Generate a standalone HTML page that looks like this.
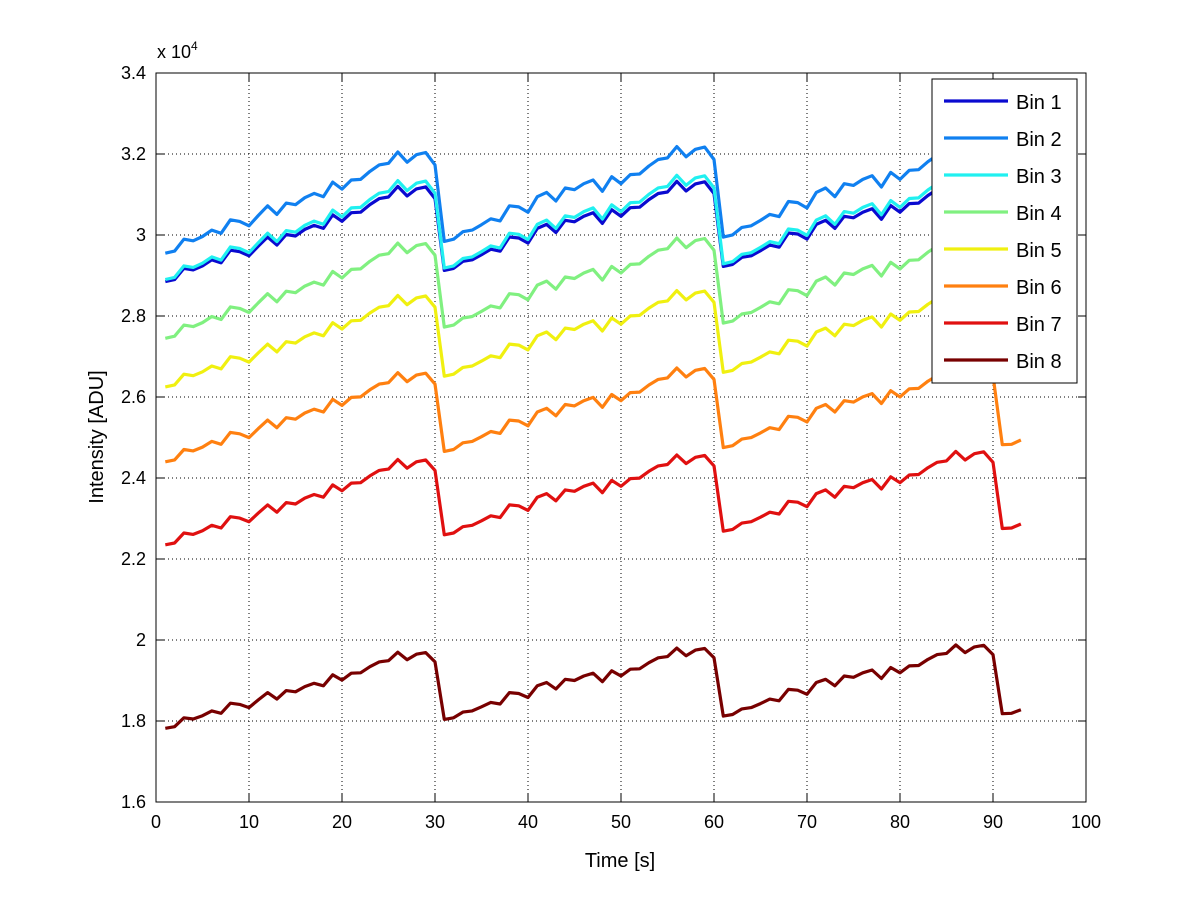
<!DOCTYPE html>
<html><head><meta charset="utf-8"><style>
html,body{margin:0;padding:0;background:#fff;}
svg{display:block;font-family:"Liberation Sans",sans-serif;}
</style></head><body>
<svg id="chart" width="1200" height="901" viewBox="0 0 1200 901">
<rect x="0" y="0" width="1200" height="901" fill="#fff"/>
<g id="grid"></g>
<g id="series"></g>
<g id="axes"></g>
<g id="legend"></g>
</svg>
<script>
const xTicks = [0,10,20,30,40,50,60,70,80,90,100];
const yTicks = [1.6,1.8,2.0,2.2,2.4,2.6,2.8,3.0,3.2,3.4];
const yTickLabels = ["1.6","1.8","2","2.2","2.4","2.6","2.8","3","3.2","3.4"];
const times = [];
for (let t = 1; t <= 93; t++) times.push(t);
// common shape (deviation read from Bin 8, units of 1e4)
const shape = [0,.004,.026,.023,.031,.043,.037,.062,.059,.051,.070,.088,.072,.093,.090,.103,.111,.105,.132,.119,.136,.137,.152,.164,.167,.188,.169,.183,.187,.164,
.022,.026,.040,.043,.053,.064,.060,.088,.086,.076,.105,.113,.097,.121,.118,.129,.136,.115,.142,.129,.146,.147,.162,.174,.177,.198,.179,.193,.197,.174,
.030,.034,.048,.051,.061,.072,.068,.096,.094,.084,.113,.121,.105,.129,.126,.137,.144,.123,.150,.137,.154,.155,.170,.182,.185,.206,.187,.201,.205,.182,
.036,.037,.046];
const binNames = ["Bin 1","Bin 2","Bin 3","Bin 4","Bin 5","Bin 6","Bin 7","Bin 8"];
const binBase = [2.885,2.955,2.89,2.745,2.625,2.44,2.235,1.782];
const binScale = [1.25,1.33,1.3,1.25,1.2,1.17,1.12,1.0];
const binColors = ["#0a0ad0","#1080f0","#20f0f0","#80f080","#f0f010","#ff8010","#e01010","#780000"];

const X0=156, X1=1086, Y0=802, Y1=73;
const xs = v => X0 + (v-0)/(100-0)*(X1-X0);
const ys = v => Y0 - (v-1.6)/(3.4-1.6)*(Y0-Y1);
const NS="http://www.w3.org/2000/svg";
function mk(tag, attrs, parent){const e=document.createElementNS(NS,tag);for(const k in attrs)e.setAttribute(k,attrs[k]);parent.appendChild(e);return e;}
const grid=document.getElementById('grid'), axes=document.getElementById('axes'), series=document.getElementById('series'), legend=document.getElementById('legend');

xTicks.forEach((t,i)=>{
  const x=xs(t);
  if(i>0&&i<xTicks.length-1){
    const g=mk('line',{x1:x,y1:Y0,x2:x,y2:Y1,stroke:'#000','stroke-width':1,'stroke-dasharray':'1,3'},grid);
    
    
  }
  mk('line',{x1:x,y1:Y0,x2:x,y2:Y0-8,stroke:'#000'},axes);
  mk('line',{x1:x,y1:Y1,x2:x,y2:Y1+8,stroke:'#000'},axes);
  const tx=mk('text',{x:x,y:Y0+26,'text-anchor':'middle','font-size':18},axes);
  tx.textContent=t;
  
  
});
yTicks.forEach((t,i)=>{
  const y=ys(t);
  if(i>0&&i<yTicks.length-1){
    const g=mk('line',{x1:X0,y1:y,x2:X1,y2:y,stroke:'#000','stroke-width':1,'stroke-dasharray':'1,3'},grid);
    
    
  }
  mk('line',{x1:X0,y1:y,x2:X0+8,y2:y,stroke:'#000'},axes);
  mk('line',{x1:X1,y1:y,x2:X1-8,y2:y,stroke:'#000'},axes);
  const tx=mk('text',{x:X0-10,y:y+6,'text-anchor':'end','font-size':18},axes);
  tx.textContent=yTickLabels[i];
  
  
});
const box=mk('rect',{x:X0,y:Y1,width:X1-X0,height:Y0-Y1,fill:'none',stroke:'#000'},axes);



const exp=mk('text',{x:157,y:58,'font-size':18},axes);
exp.innerHTML='x 10<tspan dy="-8" font-size="12">4</tspan>';


const xt=mk('text',{x:620,y:867,'text-anchor':'middle','font-size':20},axes);
xt.textContent='Time [s]';


const yt=mk('text',{x:0,y:0,'text-anchor':'middle','font-size':20,transform:'translate(103,437) rotate(-90)'},axes);
yt.textContent='Intensity [ADU]';



binNames.forEach((name,b)=>{
  const pts=times.map((t,i)=>xs(t).toFixed(1)+','+ys(binBase[b]+binScale[b]*shape[i]).toFixed(1)).join(' ');
  const pl=mk('polyline',{points:pts,fill:'none',stroke:binColors[b],'stroke-width':3.2,'stroke-linejoin':'round'},series);
  
  
});

const lb=mk('rect',{x:932,y:79,width:145,height:304,fill:'#fff',stroke:'#000'},legend);


binNames.forEach((name,b)=>{
  const y=101+b*37;
  const ln=mk('line',{x1:944,y1:y,x2:1008,y2:y,stroke:binColors[b],'stroke-width':3.2},legend);
  
  
  const tx=mk('text',{x:1016,y:y+8,'font-size':20},legend);
  tx.textContent=name;
  
  
});
</script>
</body></html>
